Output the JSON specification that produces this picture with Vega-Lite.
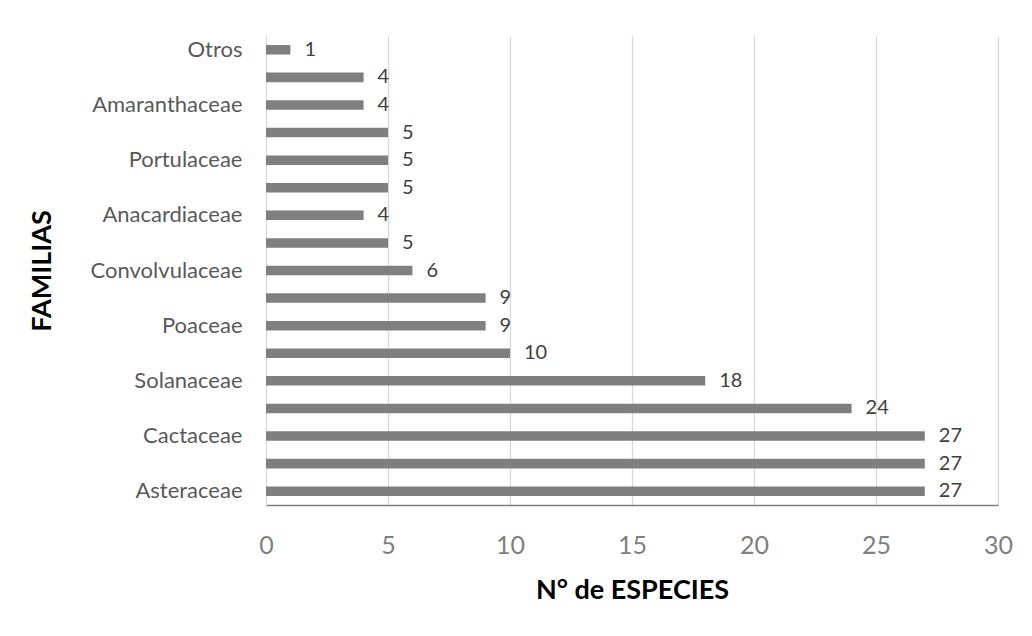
{
  "$schema": "https://vega.github.io/schema/vega-lite/v6.json",
  "width": 732,
  "height": 469,
  "autosize": {"type": "none"},
  "padding": {"left": 266, "top": 36, "right": 34, "bottom": 131},
  "background": "white",
  "config": {"view": {"stroke": null}, "font": "Lato"},
  "data": {
    "values": [
      {"familia": "Otros", "especies": 1},
      {"familia": "Plantaginaceae", "especies": 4},
      {"familia": "Amaranthaceae", "especies": 4},
      {"familia": "Verbenaceae", "especies": 5},
      {"familia": "Portulaceae", "especies": 5},
      {"familia": "Nyctaginaceae", "especies": 5},
      {"familia": "Anacardiaceae", "especies": 4},
      {"familia": "Brassicaceae", "especies": 5},
      {"familia": "Convolvulaceae", "especies": 6},
      {"familia": "Lamiaceae", "especies": 9},
      {"familia": "Poaceae", "especies": 9},
      {"familia": "Boraginaceae", "especies": 10},
      {"familia": "Solanaceae", "especies": 18},
      {"familia": "Euphorbiaceae", "especies": 24},
      {"familia": "Cactaceae", "especies": 27},
      {"familia": "Fabaceae", "especies": 27},
      {"familia": "Asteraceae", "especies": 27}
    ]
  },
  "encoding": {
    "y": {
      "field": "familia",
      "type": "nominal",
      "sort": null,
      "scale": {"paddingInner": 0.655, "paddingOuter": 0.3275},
      "axis": {
        "title": "FAMILIAS",
        "titleFont": "Lato",
        "titleFontWeight": "bold",
        "titleFontSize": 27,
        "titleColor": "#000000",
        "titleAngle": 270,
        "titleBaseline": "middle",
        "titleAlign": "center",
        "titleX": -224,
        "titleY": 234.5,
        "labelExpr": "indexof(['Otros','Amaranthaceae','Portulaceae','Anacardiaceae','Convolvulaceae','Poaceae','Solanaceae','Cactaceae','Asteraceae'], datum.value) >= 0 ? datum.value : ''",
        "labelFontSize": 22,
        "labelColor": "#595959",
        "labelPadding": 24,
        "ticks": false,
        "tickSize": 0,
        "domainColor": "#d9d9d9",
        "domainWidth": 1,
        "grid": false
      }
    },
    "x": {
      "field": "especies",
      "type": "quantitative",
      "scale": {"domain": [0, 30], "nice": false},
      "axis": {
        "title": "N° de ESPECIES",
        "titleFont": "Lato",
        "titleFontWeight": "bold",
        "titleFontSize": 27,
        "titleColor": "#000000",
        "titleBaseline": "alphabetic",
        "titleAlign": "center",
        "titleX": 366,
        "titleY": 93,
        "values": [0, 5, 10, 15, 20, 25, 30],
        "labelFontSize": 25,
        "labelColor": "#7f7f7f",
        "labelBaseline": "alphabetic",
        "labelFlush": false,
        "labelPadding": 48,
        "ticks": false,
        "tickSize": 0,
        "domainColor": "#808080",
        "domainWidth": 1.5,
        "grid": true,
        "gridColor": "#d9d9d9",
        "gridWidth": 1.3
      }
    }
  },
  "layer": [
    {"mark": {"type": "bar", "color": "#7f7f7f"}},
    {
      "mark": {"type": "text", "align": "left", "baseline": "middle", "dx": 14, "fontSize": 20, "color": "#404040"},
      "encoding": {"text": {"field": "especies", "type": "quantitative"}}
    }
  ]
}
